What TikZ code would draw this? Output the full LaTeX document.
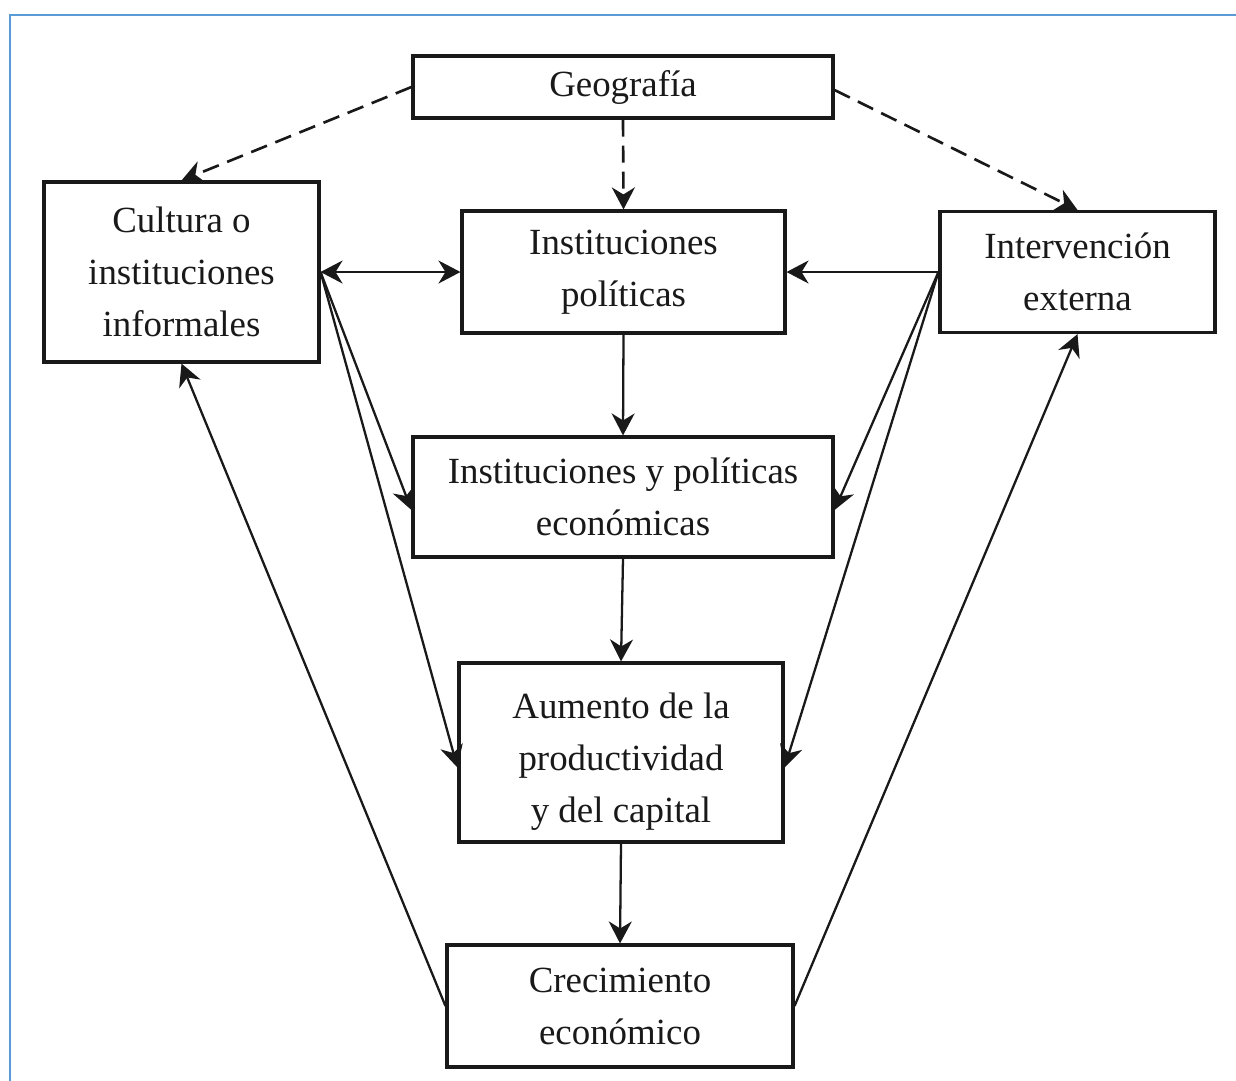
\documentclass[tikz,border=0pt]{standalone}
\usepackage{fontspec}
\setmainfont{Liberation Serif}
\usetikzlibrary{arrows.meta}
\definecolor{frameblue}{RGB}{91,155,213}

\begin{document}
\begin{tikzpicture}[x=0.02cm, y=-0.02cm,
		>={Stealth[length=0.44cm, width=0.46cm, inset=0.14cm]},
		box/.style={draw=black!90, line width=1.8pt, rectangle, align=center, text=black!90, inner sep=0pt, font=\fontsize{21}{29.6}\selectfont},
		link/.style={line width=1.3pt, draw=black!90, ->},
		hint/.style={link, line width=1.5pt, dash pattern=on 0.34cm off 0.18cm}]
	\useasboundingbox (0,0) rectangle (1236,1080);
	\draw [line width=1.2pt, frameblue] (1250,15) -- (10,15) -- (10,1095);
	\begin{scope}
		\node (geo) [box, minimum width=8.4cm, minimum height=1.24cm] at (623,87) {Geografía};
		\node (cult) [box, minimum width=5.5cm, minimum height=3.6cm] at (181.5,272) {Cultura o\\instituciones\\informales};
		\node (ipol) [box, minimum width=6.46cm, minimum height=2.44cm] at (623.5,272) {Instituciones\\políticas};
		\node (iext) [box, minimum width=5.5cm, minimum height=2.42cm] at (1077.5,272) {Intervención\\externa};
		\node (iecon) [box, minimum width=8.4cm, minimum height=2.4cm] at (623,497) {Instituciones y políticas\\económicas};
		\node (aum) [box, minimum width=6.48cm, minimum height=3.58cm] at (621,752.5) {\raisebox{-9.5pt}[0pt][0pt]{\begin{tabular}{@{}c@{}}Aumento de la\\productividad\\y del capital\end{tabular}}};
		\node (crec) [box, minimum width=6.92cm, minimum height=2.44cm] at (620,1006) {Crecimiento\\económico};

		\draw [hint] (geo.west) -- (cult.north);
		\draw [hint] (geo.south) -- (ipol.north);
		\draw [hint] ([yshift=-0.06cm]geo.east) -- (iext.north);
		\draw [link, <->] (cult.east) -- (ipol.west);
		\draw [link] (iext.west) -- (ipol.east);
		\draw [link] (cult.east) -- ([yshift=-0.26cm]iecon.west);
		\draw [link] (cult.east) -- ([yshift=-0.3cm]aum.west);
		\draw [link] (iext.west) -- ([yshift=-0.26cm]iecon.east);
		\draw [link] (iext.west) -- ([yshift=-0.3cm]aum.east);
		\draw [link] (ipol.south) -- (iecon.north);
		\draw [link] (iecon.south) -- (aum.north);
		\draw [link] (aum.south) -- (crec.north);
		\draw [link] (crec.west) -- (cult.south);
		\draw [link] (crec.east) -- (iext.south);
	\end{scope}
\end{tikzpicture}
\end{document}
